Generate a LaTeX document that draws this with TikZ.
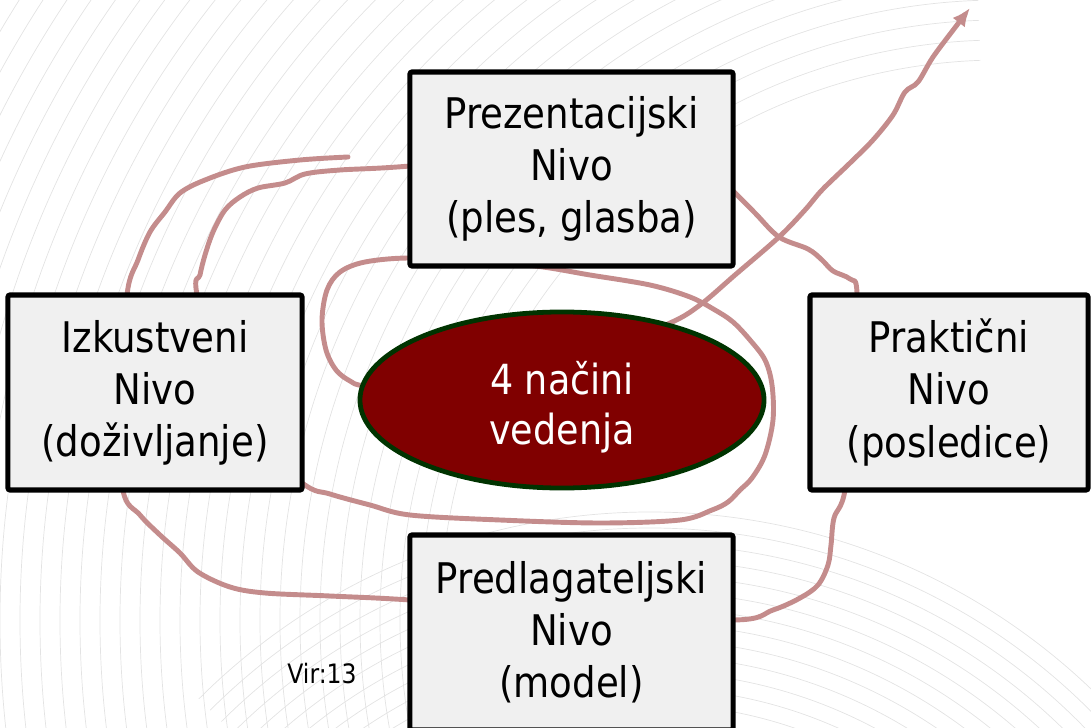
\documentclass[tikz,border=0pt]{standalone}
\usepackage{fontspec}
\setmainfont{DejaVu Sans}[FakeStretch=0.88]
\usetikzlibrary{shapes.geometric, arrows.meta}
\pgfdeclarelayer{pattern}
\pgfdeclarelayer{bg}
\pgfsetlayers{pattern,bg,main}
\definecolor{boxfill}{HTML}{F0F0F0}
\definecolor{spiralred}{HTML}{C48C8C}
\definecolor{centrered}{HTML}{800000}
\definecolor{rimgreen}{HTML}{003300}
\tikzset{
  nivo/.style={draw=black, line width=3.6pt, rounded corners=1.5pt, fill=boxfill,
    align=center, inner sep=0pt, font=\fontsize{30}{37}\selectfont},
  centre/.style={ellipse, draw=rimgreen, line width=3.4pt, fill=centrered, inner sep=0pt},
  centretext/.style={text=white, align=center, inner sep=0pt, font=\fontsize{29.5}{35.5}\selectfont},
  spiral/.style={spiralred, line width=3.5pt, line cap=round, line join=round},
  arcline/.style={gray!22, line width=0.5pt}
}
\begin{document}
\begin{tikzpicture}[x=0.025cm, y=-0.025cm]
  \useasboundingbox (0,0) rectangle (1091,728);

  % nodes
  \node[nivo, minimum width=8.075cm, minimum height=4.85cm] (prez) at (571.5,169) {Prezentacijski\\Nivo\\(ples, glasba)};
  \node[nivo, minimum width=7.35cm, minimum height=4.875cm] (izk) at (155,392.5) {Izkustveni\\Nivo\\(doživljanje)};
  \node[nivo, minimum width=6.95cm, minimum height=4.875cm] (prak) at (949,392.5) {Praktični\\Nivo\\(posledice)};
  \node[nivo, minimum width=8.075cm, minimum height=4.875cm] (pred) at (571.5,632.5) {Predlagateljski\\Nivo\\(model)};
  \node[centre, minimum width=10.1cm, minimum height=4.4cm] (nacini) at (562,400) {};
  \node[centretext] (nacinitext) at (562,407) {4 načini\\vedenja};
  \node[font=\fontsize{19}{22}\selectfont] (vir) at (322,674) {Vir:13};

  % background pattern
  \begin{pgfonlayer}{pattern}
    \clip (0,0) rectangle (1091,728);
    \foreach \r in {560,580,...,1200}
      \draw[arcline] (1000,620) ++(140:\r) arc[start angle=140, end angle=268, radius=\r];
    \foreach \r in {430,446,...,650}
      \draw[arcline] (650,1150) ++(225:\r) arc[start angle=225, end angle=322, radius=\r];
  \end{pgfonlayer}

  % spiral
  \begin{pgfonlayer}{bg}
    \draw[spiral, -{Latex[length=13pt, width=11pt]}] plot[smooth, tension=0.55] coordinates {
      (348,157) (300,160) (245,167) (205,180) (180,193) (165,212) (150,232) (138,260) (127,295)
      (122,400) (123,490) (140,515) (160,535) (180,553) (198,572) (230,587) (265,593) (330,596) (410,600)
      (570,612) (733,620) (773,610) (800,598) (818,585) (828,565) (831,545) (834,518) (845,490)
      (855,390) (857,293) (850,279) (833,271) (822,260) (808,249) (779,237) (755,213) (733,191)
      (700,160) (580,150) (410,166) (340,170) (305,174) (285,183) (258,188) (240,197) (225,210) (213,232)
      (205,255) (200,275) (197,295) (225,420) (302,483) (330,494) (370,505) (410,515) (500,520)
      (600,523) (680,520) (712,510) (728,502) (740,490) (752,478) (765,455) (773,420) (772,385)
      (765,360) (750,340) (733,322) (715,310) (690,297) (650,285) (590,275) (535,266)
      (470,262) (410,258) (365,262) (340,272) (327,290) (322,320) (326,350) (336,370) (350,381)
      (365,386) (430,392) (600,350) (670,323) (700,305) (735,275) (779,237) (805,210) (822,190) (850,163)
      (873,140) (893,115) (905,92) (918,82) (933,57) (957,25) (970,8)};
  \end{pgfonlayer}
\end{tikzpicture}
\end{document}
